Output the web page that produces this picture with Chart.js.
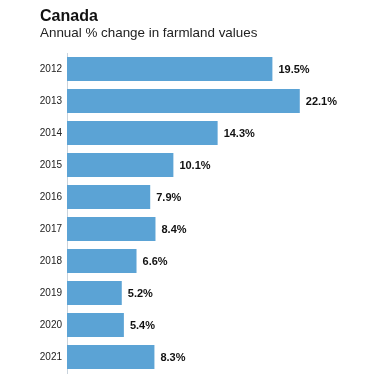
<!DOCTYPE html>
<html>
<head>
<meta charset="utf-8">
<script src="https://cdn.jsdelivr.net/npm/chart.js@4"></script>
<style>
	html, body { margin: 0; padding: 0; background: #fff; }
	#wrap { position: relative; width: 391px; height: 388px; }
	#title { position: absolute; left: 40px; top: 7px; font: bold 16px 'Liberation Sans', Arial, sans-serif; color: #111; }
	#subtitle { position: absolute; left: 40px; top: 25px; font: 13.4px 'Liberation Sans', Arial, sans-serif; color: #222; }
	canvas { position: absolute; left: 0; top: 0; }
</style>
</head>
<body>
<div id="wrap">
	<canvas id="chart" width="391" height="388"></canvas>
	<div id="title">Canada</div>
	<div id="subtitle">Annual % change in farmland values</div>
</div>
<script>
const years = ['2012', '2013', '2014', '2015', '2016', '2017', '2018', '2019', '2020', '2021']
const changes = [19.5, 22.1, 14.3, 10.1, 7.9, 8.4, 6.6, 5.2, 5.4, 8.3]

// draws "19.5%" etc. just past the end of each bar
const valueLabels = {
	id: 'valueLabels',
	afterDatasetsDraw(chart) {
		const ctx = chart.ctx
		const meta = chart.getDatasetMeta(0)
		ctx.save()
		ctx.font = 'bold 11px "Liberation Sans", Arial, sans-serif'
		ctx.fillStyle = '#111'
		ctx.textBaseline = 'middle'
		ctx.textAlign = 'left'
		meta.data.forEach((bar, i) => {
			ctx.fillText(changes[i].toFixed(1) + '%', bar.x + 6, bar.y + 1)
		})
		ctx.restore()
	},
}

new Chart(document.getElementById('chart'), {
	type: 'bar',
	data: {
		labels: years,
		datasets: [
			{
				data: changes,
				backgroundColor: '#5ba3d5',
				barPercentage: 0.75,
				categoryPercentage: 1,
			},
		],
	},
	options: {
		indexAxis: 'y',
		responsive: false,
		animation: false,
		layout: { padding: { top: 53, bottom: 15, left: 0, right: 8 } },
		plugins: {
			legend: { display: false },
			tooltip: { enabled: false },
		},
		scales: {
			x: {
				display: false,
				min: 0,
				max: 30,
			},
			y: {
				afterFit: (scale) => {
					scale.width = 67
				},
				grid: { display: false, drawTicks: false },
				border: { display: true, color: '#c9d3dc', width: 1 },
				ticks: {
					color: '#222',
					padding: 5,
					font: { family: 'Liberation Sans, Arial, sans-serif', size: 10 },
				},
			},
		},
	},
	plugins: [valueLabels],
})
</script>
</body>
</html>
